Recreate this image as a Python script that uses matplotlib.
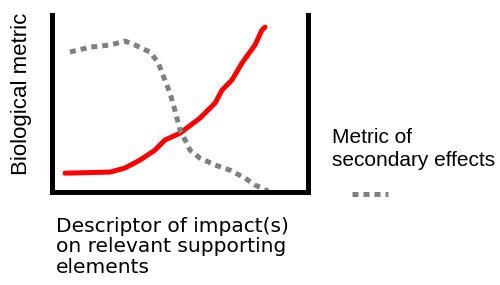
import matplotlib.pyplot as plt

# values (arbitrary 0-100 units)
bio_x = [5.1, 22.7, 28.5, 34.4, 40.2, 44.1, 50.0, 57.8, 63.7, 66.4, 70.3, 74.2, 79.3, 82.0, 83.2]
bio_y = [10.7, 11.3, 13.6, 18.1, 23.7, 29.4, 33.3, 41.8, 50.3, 57.6, 63.3, 72.9, 83.1, 91.5, 93.2]

sec_x = [7.0, 14.8, 22.7, 28.5, 32.4, 38.3, 41.4, 44.1, 46.1, 48.0, 50.0, 52.0, 53.9,
         57.8, 63.7, 69.5, 75.4, 79.3, 84.4]
sec_y = [79.1, 81.9, 83.1, 85.3, 83.1, 79.1, 73.4, 63.3, 55.9, 46.3, 35.0, 29.4, 23.7,
         19.2, 15.3, 12.4, 7.9, 4.0, 0.6]

fig = plt.figure(figsize=(5, 2.85), dpi=100)
ax = fig.add_axes([0.104, 0.326, 0.512, 0.621])

ax.plot(bio_x, bio_y, color='red', lw=3.6, solid_capstyle='round')
sec, = ax.plot(sec_x, sec_y, color='#808080', lw=3.6, dashes=(1.2, 1.0))

ax.set_xlim(0, 100)
ax.set_ylim(0, 100)
ax.set_xticks([])
ax.set_yticks([])
ax.spines['top'].set_visible(False)
for s in ['left', 'right', 'bottom']:
    ax.spines[s].set_linewidth(3.6)

ax.set_ylabel('Biological metric', fontsize=16, family='Liberation Sans')
ax.yaxis.set_label_coords(-0.078, 0.554)
ax.set_xlabel('Descriptor of impact(s)\non relevant supporting\nelements',
              fontsize=14.5, loc='left', linespacing=1.08)
ax.xaxis.set_label_coords(0.016, -0.142)

# legend: label text above, line sample below it
fig.text(0.664, 0.551, 'Metric of\nsecondary effects', fontsize=15,
         family='Liberation Sans', va='top', ha='left', linespacing=1.25)
ax.legend([sec], [''], loc='center left', bbox_to_anchor=(0.704, 0.316),
          bbox_transform=fig.transFigure, frameon=False, borderpad=0,
          borderaxespad=0, handletextpad=0, handlelength=2.6)

fig.savefig('out.png')
